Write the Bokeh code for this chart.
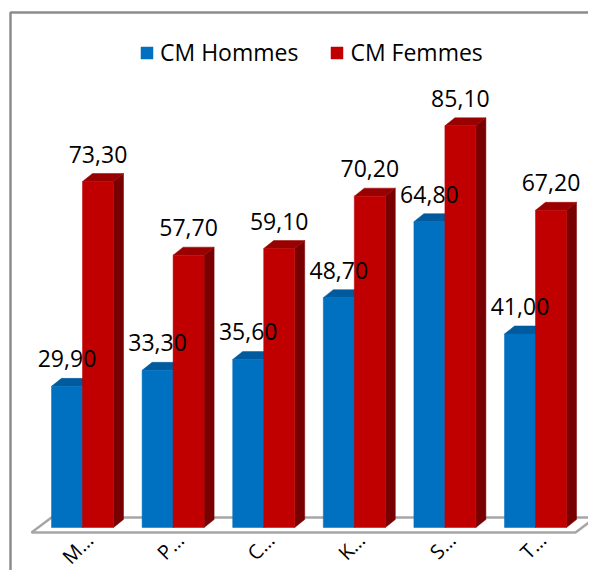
import numpy as np
from bokeh.plotting import figure
from bokeh.models import Range1d, Legend, LegendItem
from bokeh.core.properties import value
from bokeh.embed import file_html
from bokeh.resources import INLINE

# ---- data ----
categories = ["M…", "P…", "C…", "K…", "S…", "T…"]
hommes = [29.90, 33.30, 35.60, 48.70, 64.80, 41.00]
femmes = [73.30, 57.70, 59.10, 70.20, 85.10, 67.20]
series_names = ["CM Hommes", "CM Femmes"]

# ---- layout / style ----
W, H = 588, 570
PX_X = 90.6      # pixels per category step
PX_Y = 4.72      # pixels per value unit
x_start = -82 / PX_X
x_end = x_start + W / PX_X
y_end = 527 / PX_Y
y_start = y_end - H / PX_Y

BW = 31 / PX_X          # bar width
DX = 10 / PX_X          # 3D depth offsets
DY = 8 / PX_Y
FONT = "Open Sans"

BLUE, BLUE_TOP, BLUE_SIDE = "#0070C0", "#005A9E", "#004F8A"
RED, RED_TOP, RED_SIDE = "#C00000", "#990000", "#780000"

p = figure(width=W, height=H, output_backend="svg", toolbar_location=None,
           x_range=Range1d(x_start, x_end), y_range=Range1d(y_start, y_end),
           min_border=0, outline_line_color=None)
p.axis.visible = False
p.grid.visible = False

idx = np.arange(len(categories), dtype=float)

# floor
f_l = idx[0] - 0.563
f_r = idx[-1] + 0.442
f_y0 = -5 / PX_Y
f_dx = 20 / PX_X
f_dy = 15 / PX_Y
p.patch([f_l, f_r, f_r + f_dx, f_l + f_dx], [f_y0, f_y0, f_y0 + f_dy, f_y0 + f_dy],
        fill_color="white", line_color="#A6A6A6", line_width=2.5)

# frame lines
fx = x_start + 10 / PX_X
fy = y_end - 12 / PX_Y
p.line([fx, fx, x_end], [y_start, fy, fy], line_color="#8C8C8C", line_width=2.5)


def bars(lefts, vals, front, top_c, side_c):
    rights = lefts + BW
    vals = np.asarray(vals, dtype=float)
    side_xs = [[r, r + DX, r + DX, r] for r in rights]
    side_ys = [[0, DY, v + DY, v] for v in vals]
    p.patches(side_xs, side_ys, fill_color=side_c, line_color=side_c, line_width=0.5)
    top_xs = [[l, r, r + DX, l + DX] for l, r in zip(lefts, rights)]
    top_ys = [[v, v, v + DY, v + DY] for v in vals]
    p.patches(top_xs, top_ys, fill_color=top_c, line_color=top_c, line_width=0.5)
    return p.quad(left=lefts, right=rights, bottom=0, top=vals,
                  fill_color=front, line_color=front, line_width=0.5)


r_h = bars(idx - BW, hommes, BLUE, BLUE_TOP, BLUE_SIDE)
r_f = bars(idx, femmes, RED, RED_TOP, RED_SIDE)

# data labels
LAB = 27.5 / PX_Y
fmt = lambda v: f"{v:.2f}".replace(".", ",")
p.text(x=idx - BW / 2, y=np.array(hommes) + LAB, text=[fmt(v) for v in hommes],
       text_font=value(FONT), text_font_size="23px", text_align="center",
       text_baseline="alphabetic", text_color="black")
p.text(x=idx + BW / 2, y=np.array(femmes) + LAB, text=[fmt(v) for v in femmes],
       text_font=value(FONT), text_font_size="23px", text_align="center",
       text_baseline="alphabetic", text_color="black")

# category labels
p.text(x=idx + 0.077, y=[-9 / PX_Y] * len(idx), text=categories, angle=np.pi / 4,
       text_font=value(FONT), text_font_size="20px", text_align="right",
       text_baseline="middle", text_color="black")

legend = Legend(items=[LegendItem(label=series_names[0], renderers=[r_h]),
                       LegendItem(label=series_names[1], renderers=[r_f])],
                orientation="horizontal", location=(139, 502),
                glyph_width=15, glyph_height=15, label_standoff=6, spacing=31,
                padding=0, margin=0, border_line_color=None,
                background_fill_alpha=0, label_text_font=FONT,
                label_text_font_size="23px", label_text_color="black")
p.add_layout(legend)

open("out.html", "w").write(file_html(p, INLINE))
